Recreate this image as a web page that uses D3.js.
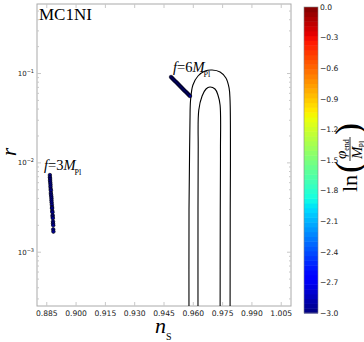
<!DOCTYPE html>
<html lang="en">
<head>
<meta charset="utf-8">
<title>MC1NI</title>
<script src="https://d3js.org/d3.v7.min.js"></script>
<style>
  body { margin: 0; background: #fff; }
  svg { display: block; }
  text { font-family: "DejaVu Sans", sans-serif; fill: #000; }
  text.serif { font-family: "Liberation Serif", "DejaVu Serif", serif; }
</style>
</head>
<body>
<svg id="chart" width="364" height="342"></svg>
<script>
// tick values
var nsTicks = [0.885, 0.900, 0.915, 0.930, 0.945, 0.960, 0.975, 0.990, 1.005];
var rTicks = [1e-3, 1e-2, 1e-1];
var rTickExp = ["\u22123", "\u22122", "\u22121"];
var cbTicks = [0.0, -0.3, -0.6, -0.9, -1.2, -1.5, -1.8, -2.1, -2.4, -2.7, -3.0];

// Planck-like contours [ns, r] (they run off the bottom of the plot)
var outerContour = [[0.9578, 1e-4], [0.9578, 0.003], [0.9581, 0.0139], [0.9583, 0.0300], [0.9586, 0.0505],
  [0.9598, 0.0744], [0.9624, 0.0938], [0.9660, 0.1067], [0.9696, 0.1095], [0.9737, 0.1040],
  [0.9767, 0.0891], [0.9783, 0.0689], [0.9788, 0.0505], [0.9790, 0.0139], [0.9789, 0.003], [0.9788, 1e-4]];
var innerContour = [[0.9624, 1e-4], [0.9624, 0.003], [0.9625, 0.0139], [0.9628, 0.0390], [0.9645, 0.0560],
  [0.9665, 0.0671], [0.9685, 0.0707], [0.9711, 0.0671], [0.9726, 0.0575], [0.9737, 0.0444],
  [0.9739, 0.0139], [0.9738, 0.003], [0.9737, 1e-4]];

// model predictions [ns, r]
var f3Points = [[0.8866, 0.0073], [0.8866, 0.0069], [0.8867, 0.0066], [0.8867, 0.0063], [0.8868, 0.0060],
  [0.8869, 0.0057], [0.8869, 0.0054], [0.8870, 0.0051], [0.8871, 0.0049], [0.8871, 0.0046],
  [0.8872, 0.0044], [0.8873, 0.0042], [0.8874, 0.0040], [0.8874, 0.0038], [0.8875, 0.0036],
  [0.8876, 0.0034], [0.8877, 0.0032], [0.8877, 0.0031], [0.8878, 0.0029], [0.8879, 0.0028],
  [0.8880, 0.0026], [0.8880, 0.0025], [0.8881, 0.0024], [0.8882, 0.0022], [0.8882, 0.0021],
  [0.8883, 0.0020], [0.8883, 0.0018], [0.8884, 0.0017]];
var f6Points = [[0.9486, 0.0914], [0.9491, 0.0891], [0.9496, 0.0868], [0.9501, 0.0846], [0.9506, 0.0824],
  [0.9512, 0.0803], [0.9517, 0.0783], [0.9522, 0.0763], [0.9527, 0.0743], [0.9532, 0.0724],
  [0.9537, 0.0706], [0.9542, 0.0688], [0.9547, 0.0670], [0.9552, 0.0653], [0.9557, 0.0637],
  [0.9563, 0.0620], [0.9568, 0.0605], [0.9573, 0.0589], [0.9578, 0.0574], [0.9583, 0.0560]];
var lnPhiEnd = -2.95;

var svg = d3.select("#chart");
var pLeft = 37, pRight = 291, pTop = 4, pBottom = 306;

var x = d3.scaleLinear().domain([0.88, 1.01]).range([pLeft, pRight]);
var y = d3.scaleLog().domain([2.5e-4, 0.6]).range([pBottom, pTop]);

// jet colormap (matplotlib segment data)
function seg(pts, t) {
  for (var i = 1; i < pts.length; i++) {
    if (t <= pts[i][0]) {
      var a = pts[i - 1], b = pts[i];
      return a[1] + (b[1] - a[1]) * (t - a[0]) / (b[0] - a[0]);
    }
  }
  return pts[pts.length - 1][1];
}
function jet(t) {
  var r = seg([[0, 0], [0.35, 0], [0.66, 1], [0.89, 1], [1, 0.5]], t);
  var g = seg([[0, 0], [0.125, 0], [0.375, 1], [0.64, 1], [0.91, 0], [1, 0]], t);
  var b = seg([[0, 0.5], [0.11, 1], [0.34, 1], [0.65, 0], [1, 0]], t);
  return d3.rgb(r * 255, g * 255, b * 255);
}
var colorT = d3.scaleLinear().domain([-3, 0]).range([0, 1]).clamp(true);

svg.append("defs").append("clipPath").attr("id", "clip")
  .append("rect").attr("x", pLeft).attr("y", pTop).attr("width", pRight - pLeft).attr("height", pBottom - pTop);

// frame
svg.append("rect").attr("x", pLeft).attr("y", pTop).attr("width", pRight - pLeft).attr("height", pBottom - pTop)
  .attr("fill", "none").attr("stroke", "#aaa").attr("stroke-width", 1);

// ticks on all sides, pointing in
var tickCol = "#c8c8c8";
nsTicks.forEach(function(v) {
  svg.append("line").attr("x1", x(v)).attr("x2", x(v)).attr("y1", pBottom).attr("y2", pBottom - 4).attr("stroke", tickCol);
  svg.append("line").attr("x1", x(v)).attr("x2", x(v)).attr("y1", pTop).attr("y2", pTop + 4).attr("stroke", tickCol);
  svg.append("text").attr("x", x(v)).attr("y", 316).attr("text-anchor", "middle")
    .attr("font-size", 7.6).style("fill", "#222").text(d3.format(".3f")(v));
});
var minor = [];
[1e-4, 1e-3, 1e-2, 1e-1].forEach(function(d) {
  for (var k = 2; k <= 9; k++) minor.push(d * k);
});
minor.filter(function(v) { return v > 2.5e-4 && v < 0.6; }).forEach(function(v) {
  svg.append("line").attr("x1", pLeft).attr("x2", pLeft + 2).attr("y1", y(v)).attr("y2", y(v)).attr("stroke", tickCol);
  svg.append("line").attr("x1", pRight).attr("x2", pRight - 2).attr("y1", y(v)).attr("y2", y(v)).attr("stroke", tickCol);
});
rTicks.forEach(function(v, i) {
  svg.append("line").attr("x1", pLeft).attr("x2", pLeft + 4).attr("y1", y(v)).attr("y2", y(v)).attr("stroke", tickCol);
  svg.append("line").attr("x1", pRight).attr("x2", pRight - 4).attr("y1", y(v)).attr("y2", y(v)).attr("stroke", tickCol);
  var t = svg.append("text").attr("x", 34).attr("y", y(v) + 2.5).attr("text-anchor", "end")
    .attr("font-size", 7).style("fill", "#222");
  t.append("tspan").text("10");
  t.append("tspan").attr("dy", -3).attr("font-size", 5).text(rTickExp[i]);
});

// contours
var plot = svg.append("g").attr("clip-path", "url(#clip)");
var line = d3.line().x(function(d) { return x(d[0]); }).y(function(d) { return y(d[1]); })
  .curve(d3.curveCatmullRom.alpha(0.5));
[outerContour, innerContour].forEach(function(c) {
  plot.append("path").attr("d", line(c)).attr("fill", "none").attr("stroke", "#000").attr("stroke-width", 1.1);
});

// predictions
[f6Points, f3Points].forEach(function(pts) {
  plot.selectAll(null).data(pts).enter().append("circle")
    .attr("cx", function(d) { return x(d[0]); })
    .attr("cy", function(d) { return y(d[1]); })
    .attr("r", 1.8)
    .attr("fill", jet(colorT(lnPhiEnd)))
    .attr("stroke", "#000").attr("stroke-width", 0.6);
});

// annotations
svg.append("text").attr("class", "serif").attr("x", 39).attr("y", 20).attr("font-size", 17).text("MC1NI");

function fLabel(px, py, num) {
  var t = svg.append("text").attr("class", "serif").attr("x", px).attr("y", py).attr("font-size", 14.5);
  t.append("tspan").attr("font-style", "italic").text("f");
  t.append("tspan").text("=" + num);
  t.append("tspan").attr("font-style", "italic").text("M");
  t.append("tspan").attr("dx", -1).attr("dy", 5).attr("font-size", 8).style("fill", "#000").text("Pl");
}
fLabel(44, 170, 3);
fLabel(173, 72, 6);

// axis labels
var xl = svg.append("text").attr("class", "serif").attr("x", 155).attr("y", 333).attr("font-size", 22);
xl.append("tspan").attr("font-style", "italic").text("n");
xl.append("tspan").attr("dy", 7).attr("font-size", 10).text("S");

svg.append("text").attr("class", "serif").attr("transform", "translate(16,152) rotate(-90)")
  .attr("text-anchor", "middle").attr("font-size", 21).attr("font-style", "italic").text("r");

// colorbar
var cbX = 304, cbW = 14, cbTop = 7, cbBottom = 313;
var cy = d3.scaleLinear().domain([-3, 0]).range([cbBottom, cbTop]);
var nBands = 64;
svg.append("g").selectAll("rect").data(d3.range(nBands)).enter().append("rect")
  .attr("x", cbX).attr("width", cbW)
  .attr("y", function(i) { return cy(-3 + 3 * (i + 1) / nBands); })
  .attr("height", (cbBottom - cbTop) / nBands + 0.5)
  .attr("fill", function(i) { return jet((i + 0.5) / nBands); });
svg.append("rect").attr("x", cbX).attr("y", cbTop).attr("width", cbW).attr("height", cbBottom - cbTop)
  .attr("fill", "none").attr("stroke", "#888").attr("stroke-width", 0.6);
cbTicks.forEach(function(v) {
  svg.append("text").attr("x", cbX + cbW + 2).attr("y", cy(v) + 2.7).attr("font-size", 7.6).style("fill", "#222")
    .text(v === 0 ? "0.0" : "\u2212" + d3.format(".1f")(-v));
});

// colorbar label ln(phi_end / M_Pl), rotated
var cl = svg.append("g").attr("transform", "translate(350,192) rotate(-90)");
cl.append("text").attr("class", "serif").attr("x", 0).attr("y", 7).attr("font-size", 22).text("ln");
cl.append("text").attr("class", "serif").attr("x", 19).attr("y", 10).attr("font-size", 36).text("(");
var fr = cl.append("g").attr("transform", "translate(31,0)");
var num = fr.append("text").attr("class", "serif").attr("x", 2).attr("y", -4).attr("font-size", 15);
num.append("tspan").attr("font-style", "italic").text("\u03c6");
num.append("tspan").attr("dy", 3).attr("font-size", 8).text("end");
fr.append("line").attr("x1", 0).attr("x2", 24).attr("y1", 0).attr("y2", 0).attr("stroke", "#000").attr("stroke-width", 0.8);
var den = fr.append("text").attr("class", "serif").attr("x", 2).attr("y", 12).attr("font-size", 15);
den.append("tspan").attr("font-style", "italic").text("M");
den.append("tspan").attr("dx", -1).attr("dy", 3).attr("font-size", 8).text("Pl");
cl.append("text").attr("class", "serif").attr("x", 57).attr("y", 10).attr("font-size", 36).text(")");
</script>
</body>
</html>
